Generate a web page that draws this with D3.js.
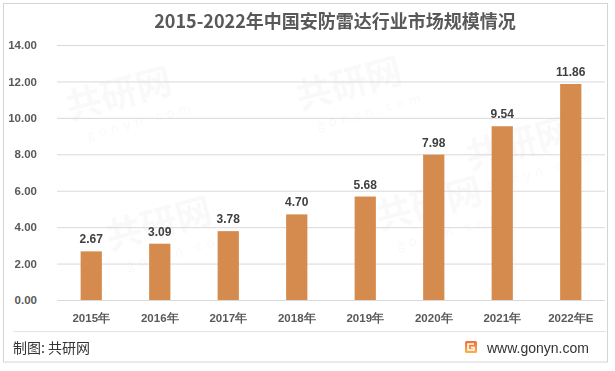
<!DOCTYPE html>
<html><head><meta charset="utf-8">
<script src="https://cdn.jsdelivr.net/npm/d3@7"></script>
<style>
html,body{margin:0;padding:0;background:#fff;}
svg{display:block;font-family:"Microsoft YaHei","Noto Sans CJK SC","Liberation Sans",sans-serif;}
</style></head>
<body>
<svg id="c" width="615" height="371"></svg>
<script>
const categories = ["2015年","2016年","2017年","2018年","2019年","2020年","2021年","2022年E"];
const values = [2.67, 3.09, 3.78, 4.70, 5.68, 7.98, 9.54, 11.86];
const yTicks = [0, 2, 4, 6, 8, 10, 12, 14];
const title = "2015-2022年中国安防雷达行业市场规模情况";
const source = "制图: 共研网";
const site = "www.gonyn.com";

(function () {
const svg = d3.select("#c");
const mL = 57, mR = 605, mT = 45, mB = 300;

// outer frame
svg.append("rect").attr("x", 3.5).attr("y", 3.5).attr("width", 604).attr("height", 358.5)
  .attr("fill", "#fff").attr("stroke", "#d4d4d4").attr("stroke-width", 1);

// faint watermarks (kept inside the frame)
const wm = svg.append("g").attr("fill", "#000").attr("opacity", 0.025).attr("font-weight", "bold");
[[70,120],[300,110],[110,250],[380,230],[470,170]].forEach(p => {
  wm.append("text").attr("transform", `translate(${p[0]},${p[1]}) rotate(-15)`)
    .attr("font-size", 36).text("共研网");
  wm.append("text").attr("transform", `translate(${p[0]+18},${p[1]+20}) rotate(-15)`)
    .attr("font-size", 13).attr("font-weight", "normal").attr("letter-spacing", 5).text("gonyn.com");
});

const x = d3.scaleBand().domain(categories).range([mL, mR]).paddingInner(0.69).paddingOuter(0.345);
const y = d3.scaleLinear().domain([0, 14]).range([mB, mT]);

// grid
const yAxis = d3.axisLeft(y).tickValues(yTicks).tickFormat(d3.format(".2f")).tickSize(-(mR - mL)).tickPadding(20);
const gy = svg.append("g").attr("transform", `translate(${mL},0)`).call(yAxis);
gy.select(".domain").remove();
gy.selectAll(".tick line").attr("stroke", "#d9d9d9").attr("stroke-width", 1);
gy.selectAll(".tick text").attr("fill", "#595959").attr("font-size", 11.5).attr("font-weight", "bold")
  .attr("font-family", "'Liberation Sans',Arial,sans-serif");

// bars
svg.append("g").selectAll("rect").data(values).join("rect")
  .attr("x", (d, i) => x(categories[i]))
  .attr("y", d => y(d))
  .attr("width", x.bandwidth())
  .attr("height", d => y(0) - y(d))
  .attr("fill", "#D48B4D");

// value labels
svg.append("g").selectAll("text").data(values).join("text")
  .attr("x", (d, i) => x(categories[i]) + x.bandwidth() / 2)
  .attr("y", d => y(d) - 8)
  .attr("text-anchor", "middle")
  .attr("fill", "#404040").attr("font-size", 12).attr("font-weight", "bold")
  .attr("font-family", "'Liberation Sans',Arial,sans-serif")
  .text(d => d.toFixed(2));

// x axis
const xAxis = d3.axisBottom(x).tickSize(0).tickPadding(14);
const gx = svg.append("g").attr("transform", `translate(0,${mB})`).call(xAxis);
gx.select(".domain").remove();
gx.selectAll(".tick text").attr("fill", "#595959").attr("font-size", 11.5).attr("font-weight", "bold");

// title
svg.append("text").attr("x", 335).attr("y", 28).attr("text-anchor", "middle")
  .attr("fill", "#595959").attr("font-size", 18).attr("font-weight", "bold").text(title);

// footer
svg.append("line").attr("x1", 13).attr("x2", 606).attr("y1", 331.5).attr("y2", 331.5)
  .attr("stroke", "#e3e3e3");
svg.append("text").attr("x", 13).attr("y", 353).attr("fill", "#333").attr("font-size", 14).text(source);

const grad = svg.append("defs").append("linearGradient").attr("id", "lg").attr("x1", 0).attr("y1", 0).attr("x2", 0).attr("y2", 1);
grad.append("stop").attr("offset", "0%").attr("stop-color", "#F26B3A");
grad.append("stop").attr("offset", "100%").attr("stop-color", "#F7B24B");
svg.append("rect").attr("x", 465).attr("y", 341).attr("width", 12).attr("height", 12).attr("rx", 1.5).attr("fill", "url(#lg)");
svg.append("path").attr("d", "M474,344 H468 V350 H474 V347.5 H471").attr("fill", "none").attr("stroke", "#fff").attr("stroke-width", 1.6);
svg.append("text").attr("x", 487).attr("y", 353).attr("fill", "#333").attr("font-size", 14)
  .attr("font-family", "'Liberation Sans',Arial,sans-serif").text(site);
})();
</script>
</body></html>
